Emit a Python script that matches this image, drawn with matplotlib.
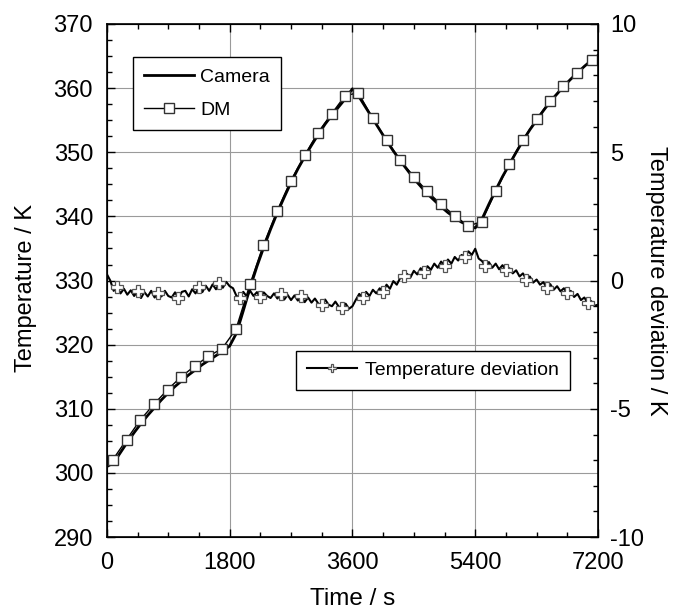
import matplotlib
matplotlib.use('Agg')
import matplotlib.pyplot as plt
from matplotlib.ticker import MultipleLocator

plt.rcParams['font.family'] = ['Liberation Sans', 'DejaVu Sans']
plt.rcParams['axes.unicode_minus'] = False

# Camera temperature, read every 100 s
cam_time = list(range(0, 7201, 100))
cam_temp = [301.0, 301.6, 303.2, 304.8, 306.3, 307.7, 309.0, 310.2, 311.4, 312.5,
            313.5, 314.4, 315.3, 316.1, 316.9, 317.6, 318.3, 319.0, 319.8, 321.8,
            325.3, 328.9, 332.2, 335.2, 338.0, 340.6, 343.0, 345.3, 347.4, 349.3,
            351.1, 352.8, 354.4, 355.8, 357.1, 358.4, 359.9, 358.6, 356.9, 355.2,
            353.5, 351.8, 350.2, 348.7, 347.3, 345.9, 344.7, 343.5, 342.5, 341.5,
            340.6, 339.8, 339.1, 338.6, 338.2, 339.6, 341.9, 344.1, 346.2, 348.1,
            350.0, 351.8, 353.5, 355.0, 356.5, 357.9, 359.1, 360.3, 361.4, 362.4,
            363.4, 364.3, 365.1]

# DM readings
dm_time = [83, 289, 484, 689, 890, 1090, 1290, 1490, 1690, 1892, 2097, 2293,
           2498, 2693, 2899, 3090, 3295, 3490, 3685, 3896, 4101, 4297, 4502, 4697,
           4898, 5103, 5299, 5495, 5700, 5900, 6096, 6301, 6496, 6692, 6897, 7108]
dm_temp = [302.0, 305.2, 308.2, 310.7, 313.0, 315.0, 316.7, 318.2, 319.4, 322.4,
           329.4, 335.5, 340.9, 345.5, 349.5, 353.0, 356.0, 358.8, 359.3, 355.3,
           351.9, 348.8, 346.2, 343.9, 341.9, 340.1, 338.5, 339.2, 343.9, 348.2,
           351.9, 355.2, 358.0, 360.3, 362.4, 364.4]

# Temperature deviation, read every 50 s
dev_time = list(range(0, 7201, 50))
dev = [0.25, 0.0, -0.40, -0.25, -0.50, -0.32, -0.55, -0.38, -0.60, -0.42,
       -0.68, -0.45, -0.62, -0.40, -0.66, -0.48, -0.62, -0.40, -0.60, -0.66,
       -0.46, -0.68, -0.44, -0.40, -0.62, -0.34, -0.50, -0.26, -0.45, -0.20,
       -0.40, -0.15, -0.34, -0.10, -0.28, -0.05, -0.22, -0.30, -0.60, -0.66,
       -0.44, -0.62, -0.40, -0.60, -0.45, -0.65, -0.46, -0.60, -0.68, -0.50,
       -0.70, -0.52, -0.74, -0.56, -0.76, -0.58, -0.78, -0.60, -0.84, -0.66,
       -0.86, -0.70, -0.90, -0.95, -0.74, -0.94, -1.00, -0.82, -1.02, -1.06,
       -0.90, -1.10, -1.00, -0.75, -0.52, -0.68, -0.44, -0.60, -0.36, -0.50,
       -0.30, -0.44, -0.16, -0.32, -0.02, -0.16, 0.10, 0.18, 0.26, 0.12,
       0.38, 0.24, 0.48, 0.34, 0.56, 0.42, 0.66, 0.50, 0.74, 0.58,
       0.82, 0.66, 0.92, 0.78, 1.00, 0.92, 1.14, 1.00, 1.24, 0.86,
       0.76, 0.56, 0.72, 0.50, 0.66, 0.44, 0.60, 0.40, 0.48, 0.28,
       0.40, 0.16, 0.28, 0.04, 0.16, -0.08, 0.04, -0.16, -0.06, -0.30,
       -0.14, -0.36, -0.22, -0.42, -0.30, -0.50, -0.40, -0.64, -0.52, -0.76,
       -0.66, -0.88, -0.80, -0.98, -0.94]

fig = plt.figure(figsize=(6.85, 6.09), dpi=100)
ax = fig.add_axes([0.156, 0.118, 0.717, 0.8426])
ax2 = ax.twinx()

ax.plot(cam_time, cam_temp, color='black', lw=2.0, label='Camera')
ax.plot(dm_time, dm_temp, color='black', lw=1.0, marker='s', ms=7,
        mfc='white', mec='#333333', mew=1.0, label='DM')
ax2.plot(dev_time, dev, color='black', lw=1.5, marker='P', ms=8,
         markevery=(3, 6), mfc='white', mec='#555555', mew=0.9,
         label='Temperature deviation')

ax.set_xlim(0, 7200)
ax.set_ylim(290, 370)
ax2.set_ylim(-10, 10)

ax.xaxis.set_major_locator(MultipleLocator(1800))
ax.xaxis.set_minor_locator(MultipleLocator(450))
ax.yaxis.set_major_locator(MultipleLocator(10))
ax.yaxis.set_minor_locator(MultipleLocator(2.5))
ax2.yaxis.set_major_locator(MultipleLocator(5))
ax2.yaxis.set_minor_locator(MultipleLocator(1))

ax.grid(True, which='major', color='#9a9a9a', lw=0.8)
ax.set_axisbelow(True)

ax.tick_params(which='both', direction='in', top=True, labelsize=17)
ax.tick_params(axis='x', pad=11)
ax.tick_params(axis='y', pad=10)
ax.tick_params(which='major', length=6, width=1)
ax.tick_params(which='minor', length=3.5, width=1)
ax2.tick_params(which='both', direction='in', labelsize=17, pad=8.5)
ax2.tick_params(which='major', length=6, width=1)
ax2.tick_params(which='minor', length=3.5, width=1)
ax.tick_params(axis='y', which='both', right=False)

for s in ax2.spines.values():
    s.set_linewidth(1.2)

ax.set_xlabel('Time / s', fontsize=17.5, labelpad=10)
ax.set_ylabel('Temperature / K', fontsize=17, labelpad=12)
ax.yaxis.set_label_coords(-0.142, 0.485)
ax2.set_ylabel('Temperature deviation / K', fontsize=17, rotation=-90, labelpad=17)

leg1 = ax.legend(loc='upper left', bbox_to_anchor=(0.0525, 0.935), borderaxespad=0,
                 fontsize=14, frameon=True, fancybox=False, edgecolor='black',
                 handlelength=2.55, handletextpad=0.35, labelspacing=0.78,
                 borderpad=0.58, framealpha=1)
leg1.get_frame().set_linewidth(1.0)
leg2 = ax2.legend(loc='upper left', bbox_to_anchor=(0.385, 0.363), borderaxespad=0,
                  fontsize=14, frameon=True, fancybox=False, edgecolor='black',
                  handlelength=2.6, handletextpad=0.4, borderpad=0.55,
                  markerscale=0.7, framealpha=1)
leg2.get_frame().set_linewidth(1.0)

fig.savefig('out.png', dpi=100)
